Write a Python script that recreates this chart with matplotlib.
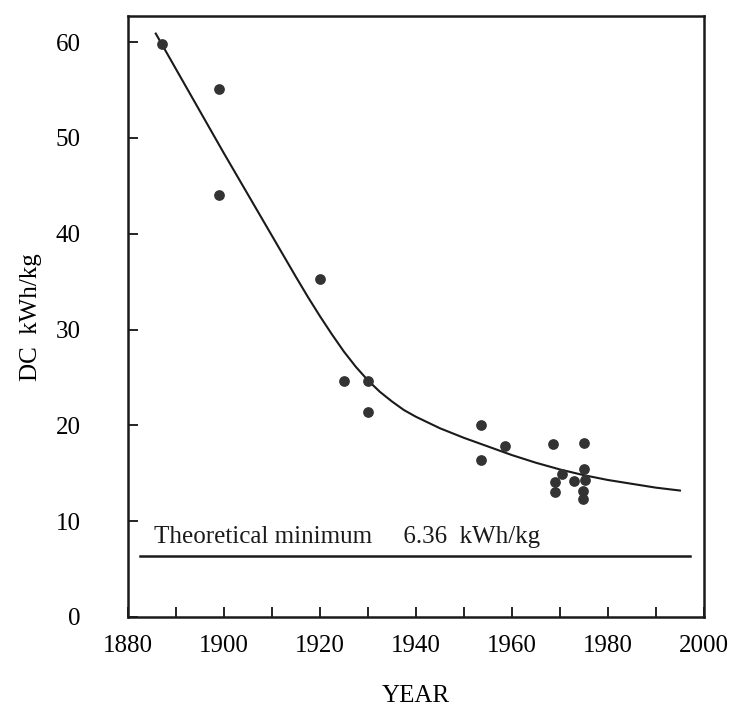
import matplotlib.pyplot as plt
import numpy as np

plt.rcParams['font.family'] = ['Liberation Serif', 'DejaVu Serif']

# measured points
years = [1887, 1899, 1899, 1920, 1925, 1930, 1930, 1953.5, 1953.5, 1958.5,
         1968.5, 1969, 1969, 1970.5, 1973, 1975, 1975, 1975.3, 1974.8, 1974.8]
dc = [59.8, 55.1, 44.0, 35.3, 24.6, 24.6, 21.4, 20.0, 16.4, 17.9,
      18.1, 14.1, 13.0, 14.9, 14.2, 18.2, 15.5, 14.3, 13.1, 12.3]

# trend curve
curve_years = [1885.8, 1890, 1895, 1900, 1905, 1910, 1915, 1917.5, 1920, 1922.5,
               1925, 1927.5, 1930, 1932.5, 1935, 1937.5, 1940, 1942.5, 1945,
               1950, 1955, 1960, 1965, 1970, 1975, 1980, 1985, 1990, 1995]
curve_dc = [60.9, 57.2, 52.8, 48.4, 44.1, 39.8, 35.5, 33.4, 31.4, 29.5,
            27.7, 26.1, 24.7, 23.5, 22.5, 21.6, 20.9, 20.3, 19.7,
            18.7, 17.8, 16.9, 16.1, 15.4, 14.8, 14.3, 13.9, 13.5, 13.2]

theo_min = 6.36
theo_span = [1882.5, 1997]

xticks = np.arange(1880, 2001, 10)
xlabels = [str(y) if y % 20 == 0 else '' for y in xticks]
yticks = [0, 10, 20, 30, 40, 50, 60]

fig = plt.figure(figsize=(7.31, 7.10), dpi=100)
ax = fig.add_axes([0.175, 0.131, 0.788, 0.846])

ax.plot(curve_years, curve_dc, color='#1a1a1a', lw=1.5)
ax.scatter(years, dc, s=45, color='#333333', zorder=3)
ax.plot(theo_span, [theo_min, theo_min], color='#1a1a1a', lw=1.8)
ax.text(1885.5, theo_min + 1.4, 'Theoretical minimum     6.36  kWh/kg',
        fontsize=18, color='#1a1a1a')

ax.set_xlim(1880, 2000)
ax.set_ylim(0, 62.7)
ax.set_xticks(xticks)
ax.set_xticklabels(xlabels)
ax.set_yticks(yticks)
ax.tick_params(axis='x', direction='in', length=7, width=1.2, pad=13, labelsize=18)
ax.tick_params(axis='y', direction='in', length=7, width=1.2, pad=34, labelsize=18)
for s in ax.spines.values():
    s.set_linewidth(1.8)
    s.set_color('#1a1a1a')

ax.set_xlabel('YEAR', fontsize=18, labelpad=20)
ax.set_ylabel('DC  kWh/kg', fontsize=18, labelpad=10)

fig.savefig('out.png', dpi=100)
